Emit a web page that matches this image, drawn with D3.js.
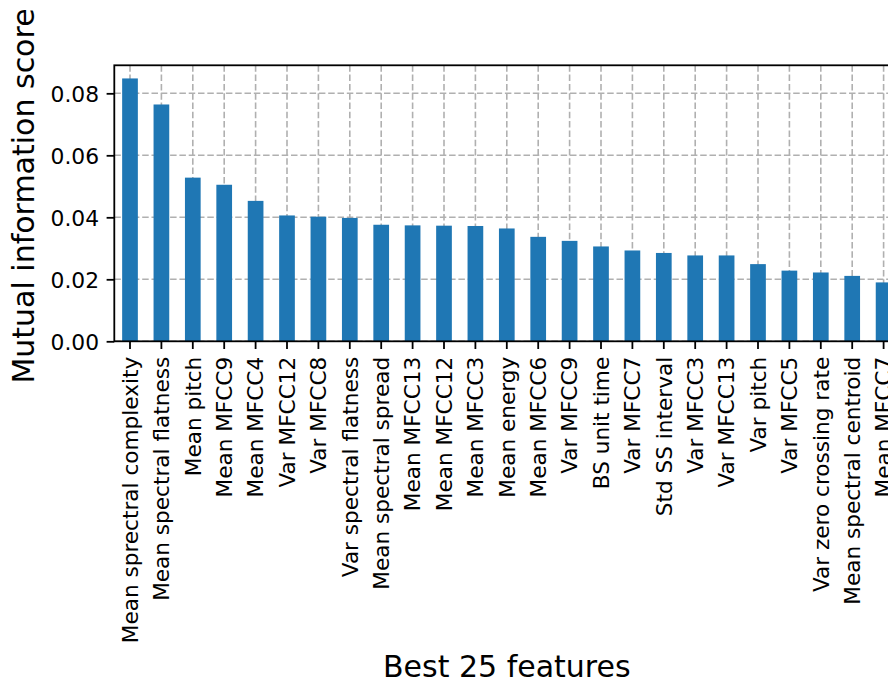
<!DOCTYPE html>
<html>
<head>
<meta charset="utf-8">
<script src="https://cdn.jsdelivr.net/npm/d3@7"></script>
<style>
  html, body { margin: 0; padding: 0; background: #fff; }
  svg { display: block; font-family: "DejaVu Sans", sans-serif; }
</style>
</head>
<body>
<svg id="chart" width="888" height="681"></svg>
<script>
// Mutual information score of the 25 best features
const features = [
  "Mean sprectral complexity", "Mean spectral flatness", "Mean pitch", "Mean MFCC9",
  "Mean MFCC4", "Var MFCC12", "Var MFCC8", "Var spectral flatness",
  "Mean spectral spread", "Mean MFCC13", "Mean MFCC12", "Mean MFCC3",
  "Mean energy", "Mean MFCC6", "Var MFCC9", "BS unit time",
  "Var MFCC7", "Std SS interval", "Var MFCC3", "Var MFCC13",
  "Var pitch", "Var MFCC5", "Var zero crossing rate", "Mean spectral centroid",
  "Mean MFCC7"
];
const scores = [
  0.0848, 0.0764, 0.0528, 0.0505,
  0.0453, 0.0406, 0.0402, 0.0398,
  0.0376, 0.0374, 0.0373, 0.0372,
  0.0364, 0.0337, 0.0324, 0.0306,
  0.0293, 0.0285, 0.0277, 0.0277,
  0.0249, 0.0228, 0.0222, 0.0211,
  0.0190
];
const yTicks = [0.00, 0.02, 0.04, 0.06, 0.08];

const svg = d3.select("#chart");
const plot = { left: 114.3, right: 899.3, top: 65.3, bottom: 341.3 };

const x = d3.scaleBand()
  .domain(features)
  .range([plot.left, plot.right])
  .paddingInner(0.5)
  .paddingOuter(0.25);

const y = d3.scaleLinear()
  .domain([0, d3.max(scores) * 1.05])
  .range([plot.bottom, plot.top]);

const gridColor = "#b0b0b0";

// grid lines (behind the bars)
const grid = svg.append("g");
grid.selectAll("line.gx")
  .data(features)
  .join("line")
  .attr("x1", d => x(d) + x.bandwidth() / 2)
  .attr("x2", d => x(d) + x.bandwidth() / 2)
  .attr("y1", plot.top)
  .attr("y2", plot.bottom)
  .attr("stroke", gridColor)
  .attr("stroke-width", 1.6)
  .attr("stroke-dasharray", "6.5,2.8");
grid.selectAll("line.gy")
  .data(yTicks)
  .join("line")
  .attr("x1", plot.left)
  .attr("x2", plot.right)
  .attr("y1", d => y(d))
  .attr("y2", d => y(d))
  .attr("stroke", gridColor)
  .attr("stroke-width", 1.6)
  .attr("stroke-dasharray", "6.5,2.8");

// bars
svg.append("g")
  .selectAll("rect")
  .data(features)
  .join("rect")
  .attr("x", d => x(d))
  .attr("width", x.bandwidth())
  .attr("y", (d, i) => y(scores[i]))
  .attr("height", (d, i) => y(0) - y(scores[i]))
  .attr("fill", "#1f77b4");

// frame
svg.append("rect")
  .attr("x", plot.left)
  .attr("y", plot.top)
  .attr("width", plot.right - plot.left)
  .attr("height", plot.bottom - plot.top)
  .attr("fill", "none")
  .attr("stroke", "#000")
  .attr("stroke-width", 1.8);

// y axis
const yAxis = svg.append("g")
  .attr("transform", `translate(${plot.left},0)`)
  .call(d3.axisLeft(y).tickValues(yTicks).tickFormat(d3.format(".2f")).tickSize(7.7).tickPadding(7.5));
yAxis.select(".domain").remove();
yAxis.selectAll(".tick line").attr("stroke", "#000").attr("stroke-width", 1.8);
yAxis.selectAll(".tick text")
  .attr("font-family", "DejaVu Sans")
  .attr("font-size", 21.8)
  .attr("fill", "#000")
  .attr("dy", "0.36em");

// x axis with rotated labels
const xAxis = svg.append("g")
  .attr("transform", `translate(0,${plot.bottom})`)
  .call(d3.axisBottom(x).tickSize(7.7).tickPadding(7.5));
xAxis.select(".domain").remove();
xAxis.selectAll(".tick line").attr("stroke", "#000").attr("stroke-width", 1.8);
xAxis.selectAll(".tick text")
  .attr("font-family", "DejaVu Sans")
  .attr("font-size", 21.6)
  .attr("fill", "#000")
  .attr("transform", "rotate(-90)")
  .attr("text-anchor", "end")
  .attr("x", -15.5)
  .attr("y", 0)
  .attr("dy", "0.36em");

// axis titles
svg.append("text")
  .attr("x", (plot.left + plot.right) / 2)
  .attr("y", 677)
  .attr("text-anchor", "middle")
  .attr("font-size", 30)
  .attr("fill", "#000")
  .text("Best 25 features");

svg.append("text")
  .attr("transform", `translate(34,196) rotate(-90)`)
  .attr("text-anchor", "middle")
  .attr("font-size", 30)
  .attr("fill", "#000")
  .text("Mutual information score");
</script>
</body>
</html>
